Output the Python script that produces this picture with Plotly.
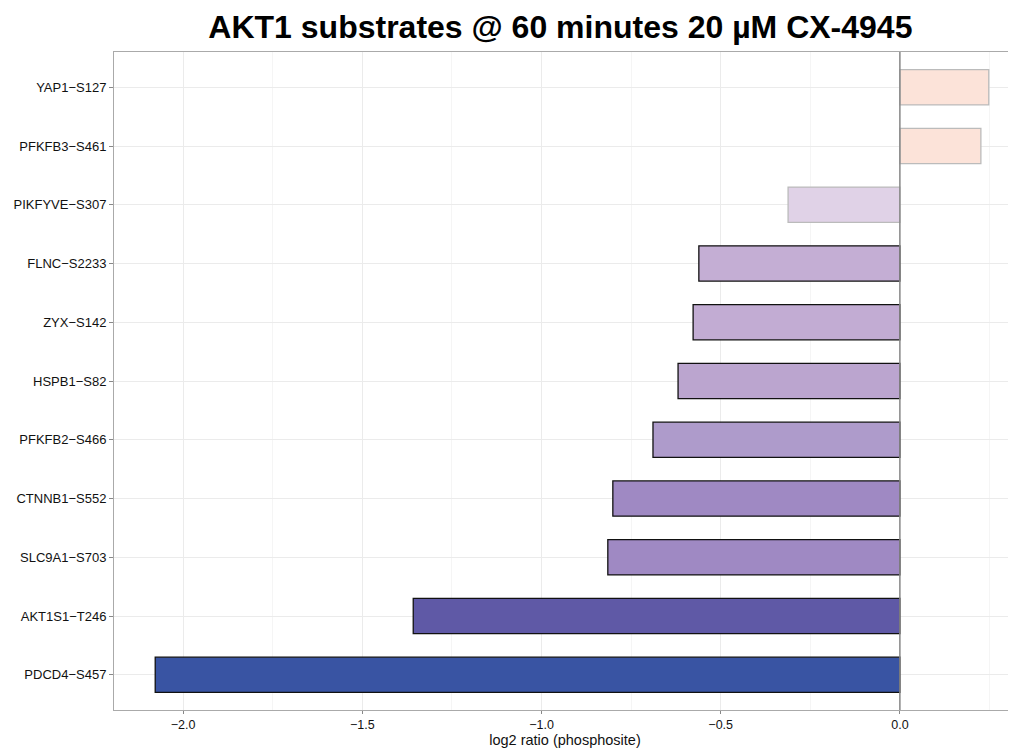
import plotly.graph_objects as go

sites = ["PDCD4\u2212S457", "AKT1S1\u2212T246", "SLC9A1\u2212S703", "CTNNB1\u2212S552",
         "PFKFB2\u2212S466", "HSPB1\u2212S82", "ZYX\u2212S142", "FLNC\u2212S2233",
         "PIKFYVE\u2212S307", "PFKFB3\u2212S461", "YAP1\u2212S127"]
log2_ratio = [-2.078, -1.358, -0.815, -0.801, -0.689, -0.619, -0.577, -0.561,
              -0.312, 0.226, 0.248]
fill_colors = ["#3954A3", "#5F59A6", "#9F89C3", "#9F89C3", "#AE9BCB", "#BBA5CF",
               "#C2ACD3", "#C4AED4", "#E0D2E7", "#FCE3D9", "#FCE3D9"]
edge_colors = ["#111111"] * 8 + ["#BBBBBB"] * 3

x_ticks = [-2.0, -1.5, -1.0, -0.5, 0.0]
x_tick_text = ["\u22122.0", "\u22121.5", "\u22121.0", "\u22120.5", "0.0"]
x_minor = [-1.75, -1.25, -0.75, -0.25, 0.25]

fig = go.Figure()
fig.add_trace(go.Bar(
    x=log2_ratio, y=sites, orientation="h", width=0.6,
    marker=dict(color=fill_colors, line=dict(color=edge_colors, width=1.3)),
    hoverinfo="x+y",
))

fig.add_shape(type="line", xref="x", yref="paper", x0=0, x1=0, y0=0, y1=1,
              line=dict(color="#888888", width=1.5), layer="above")

# page body has an 8px default margin, so the figure is sized to fit the window
fig.update_layout(
    width=1008, height=740,
    margin=dict(l=106, r=0, t=44, b=38),
    paper_bgcolor="white", plot_bgcolor="white",
    font=dict(family="Liberation Sans, Arial, sans-serif", color="#111111", size=13),
    title=dict(text="<b>AKT1 substrates @ 60 minutes 20 \u00b5M CX-4945</b>",
               x=0.548, xanchor="center", y=0.974, yanchor="middle",
               font=dict(size=32, color="#000000")),
    showlegend=False,
)
fig.update_xaxes(
    range=[-2.193, 0.324],
    tickvals=x_ticks, ticktext=x_tick_text,
    showgrid=True, gridcolor="#EBEBEB", gridwidth=1,
    minor=dict(tickvals=x_minor, showgrid=True, gridcolor="#F5F5F5", gridwidth=1, ticks=""),
    zeroline=False,
    ticks="outside", ticklen=3, tickcolor="#888888",
    showline=True, linecolor="#AAAAAA", linewidth=1, mirror=True,
    title=dict(text="log2 ratio (phosphosite)", font=dict(size=14.5), standoff=4),
    tickfont=dict(size=12.5),
)
fig.update_yaxes(
    categoryorder="array", categoryarray=sites,
    range=[-0.6, 10.6],
    showgrid=True, gridcolor="#EBEBEB", gridwidth=1,
    ticks="outside", ticklen=4, tickcolor="#888888",
    showline=True, linecolor="#AAAAAA", linewidth=1, mirror=True,
    tickfont=dict(size=13),
)

fig.write_html("out.html")
